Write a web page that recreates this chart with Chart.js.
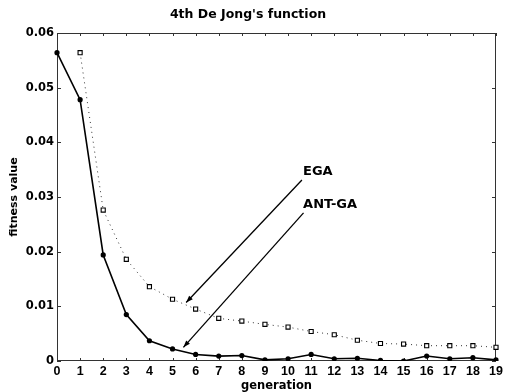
<!DOCTYPE html>
<html>
<head>
<meta charset="utf-8">
<script src="https://cdn.jsdelivr.net/npm/chart.js@4.4.0/dist/chart.umd.min.js"></script>
<style>
  html, body { margin: 0; padding: 0; background: #fff; }
  #wrap { width: 509px; height: 392px; }
</style>
</head>
<body>
<div id="wrap"><canvas id="c" width="509" height="392"></canvas></div>
<script>
// ---- data ----
const generations = ['0','1','2','3','4','5','6','7','8','9','10','11','12','13','14','15','16','17','18','19'];
const antGA = [0.0564, 0.0478, 0.0194, 0.0085, 0.0037, 0.0022, 0.0012, 0.0009, 0.0010, 0.0002,
               0.0004, 0.0012, 0.0004, 0.0005, 0.0001, 0.0000, 0.0009, 0.0004, 0.0006, 0.0002];
const ega = [null, 0.0564, 0.0276, 0.0186, 0.0136, 0.0113, 0.0095, 0.0078, 0.0073, 0.0067,
             0.0062, 0.0054, 0.0048, 0.0038, 0.0032, 0.0031, 0.0028, 0.0028, 0.0028, 0.0025];
const yTickValues = [0, 0.01, 0.02, 0.03, 0.04, 0.05, 0.06];
const yTickLabels = ['0', '0.01', '0.02', '0.03', '0.04', '0.05', '0.06'];
// annotations: label text, label anchor (gen, value), arrow tail and head (gen, value)
const annotations = [
  { text: 'EGA',    label: [10.65, 0.0347], tail: [10.6, 0.0331],  head: [5.59, 0.0107] },
  { text: 'ANT-GA', label: [10.65, 0.0286], tail: [10.67, 0.0271], head: [5.47, 0.0025] }
];

const annotationPlugin = {
  id: 'frameAndNotes',
  beforeDatasetsDraw(chart) {
    const { ctx, chartArea: a, scales } = chart;
    ctx.save();
    ctx.strokeStyle = '#333';
    ctx.lineWidth = 1;
    ctx.strokeRect(a.left + 0.5, a.top + 0.5, a.right - a.left - 1, a.bottom - a.top - 1);
    // inward ticks
    ctx.beginPath();
    yTickValues.forEach(v => {
      const y = Math.round(scales.y.getPixelForValue(v)) + 0.5;
      ctx.moveTo(a.left, y); ctx.lineTo(a.left + 4, y);
      ctx.moveTo(a.right, y); ctx.lineTo(a.right - 4, y);
    });
    generations.forEach((g, i) => {
      const x = Math.round(scales.x.getPixelForValue(i)) + 0.5;
      ctx.moveTo(x, a.bottom); ctx.lineTo(x, a.bottom - 3);
      ctx.moveTo(x, a.top); ctx.lineTo(x, a.top + 3);
    });
    ctx.stroke();
    ctx.restore();
  },
  afterDatasetsDraw(chart) {
    const { ctx, scales } = chart;
    const px = p => [scales.x.getPixelForValue(p[0]), scales.y.getPixelForValue(p[1])];
    ctx.save();
    annotations.forEach(n => {
      const [tx, ty] = px(n.tail);
      const [hx, hy] = px(n.head);
      ctx.strokeStyle = '#000';
      ctx.fillStyle = '#000';
      ctx.lineWidth = 1.3;
      ctx.beginPath(); ctx.moveTo(tx, ty); ctx.lineTo(hx, hy); ctx.stroke();
      const ang = Math.atan2(hy - ty, hx - tx);
      const L = 7, W = 2.5;
      ctx.beginPath();
      ctx.moveTo(hx, hy);
      ctx.lineTo(hx - L * Math.cos(ang) + W * Math.sin(ang), hy - L * Math.sin(ang) - W * Math.cos(ang));
      ctx.lineTo(hx - L * Math.cos(ang) - W * Math.sin(ang), hy - L * Math.sin(ang) + W * Math.cos(ang));
      ctx.closePath(); ctx.fill();
      const [lx, ly] = px(n.label);
      ctx.font = 'bold 13px "DejaVu Sans"';
      ctx.textAlign = 'left';
      ctx.textBaseline = 'middle';
      ctx.fillText(n.text, lx, ly);
    });
    ctx.restore();
  }
};

new Chart(document.getElementById('c'), {
  type: 'line',
  data: {
    labels: generations,
    datasets: [
      {
        label: 'ANT-GA',
        data: antGA,
        borderColor: '#000',
        backgroundColor: '#000',
        borderWidth: 1.6,
        pointStyle: 'circle',
        pointRadius: 2.6,
        pointBorderWidth: 0,
        tension: 0
      },
      {
        label: 'EGA',
        data: ega,
        borderColor: '#333',
        borderWidth: 1,
        borderDash: [1, 4],
        pointStyle: 'rect',
        pointRadius: 2.9,
        pointBackgroundColor: '#fff',
        pointBorderColor: '#000',
        pointBorderWidth: 1.1,
        tension: 0
      }
    ]
  },
  options: {
    responsive: false,
    animation: false,
    layout: { padding: { left: 0, right: 13, top: 0, bottom: 0 } },
    plugins: {
      legend: { display: false },
      tooltip: { enabled: false },
      title: {
        display: true,
        text: "4th De Jong's function",
        color: '#000',
        font: { family: 'DejaVu Sans', size: 12.5, weight: 'bold' },
        padding: { top: 7, bottom: 11 }
      }
    },
    scales: {
      x: {
        type: 'category',
        offset: false,
        grid: { display: false, drawTicks: false },
        border: { display: false },
        ticks: {
          color: '#000',
          padding: 3,
          maxRotation: 0,
          autoSkip: false,
          font: { family: 'Liberation Sans', size: 12.5, weight: 'bold' }
        },
        title: {
          display: true,
          text: 'generation',
          color: '#000',
          font: { family: 'DejaVu Sans', size: 11.5, weight: 'bold' },
          padding: { top: 0, bottom: -1 }
        },
        afterFit(scale) { scale.height = 31; }
      },
      y: {
        min: 0,
        max: 0.06,
        grid: { display: false, drawTicks: false },
        border: { display: false },
        afterBuildTicks(scale) { scale.ticks = yTickValues.map(v => ({ value: v })); },
        ticks: {
          color: '#000',
          padding: 3,
          font: { family: 'DejaVu Sans', size: 11.5, weight: 'bold' },
          callback(value) {
            const i = yTickValues.findIndex(v => Math.abs(v - value) < 1e-9);
            return i >= 0 ? yTickLabels[i] : '';
          }
        },
        title: {
          display: true,
          text: 'fitness value',
          color: '#000',
          font: { family: 'DejaVu Sans', size: 11, weight: 'bold' },
          padding: { top: 8, bottom: 0 }
        },
        afterFit(scale) { scale.width = 57; }
      }
    }
  },
  plugins: [annotationPlugin]
});
</script>
</body>
</html>
